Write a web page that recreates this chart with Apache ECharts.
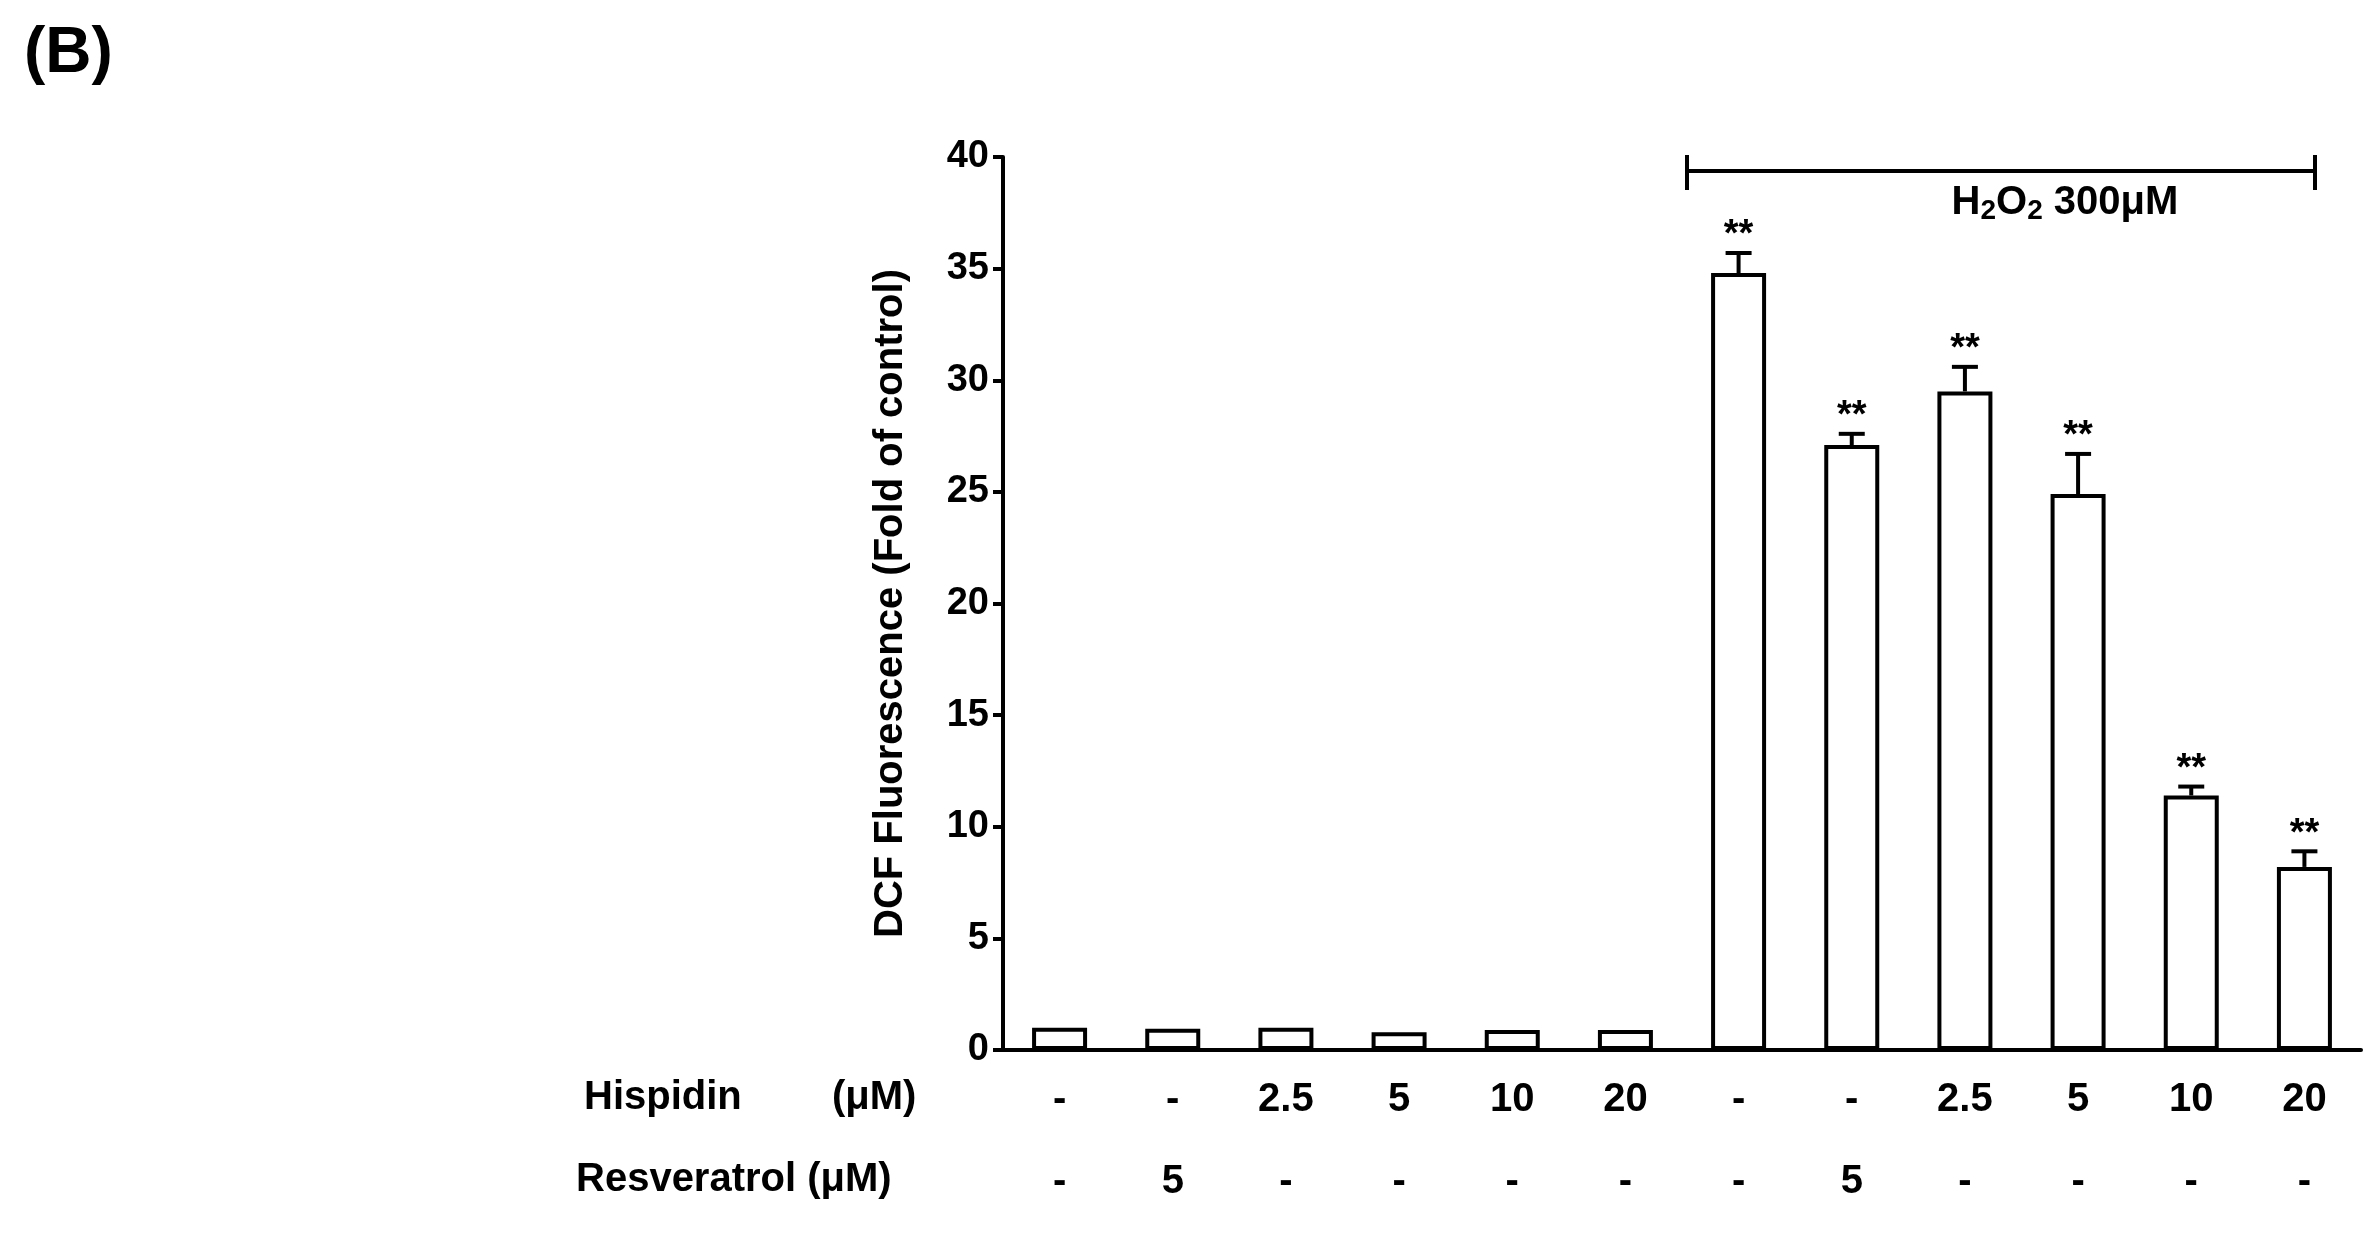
<!DOCTYPE html><html><head><meta charset="utf-8"><script src="https://cdn.jsdelivr.net/npm/echarts@6/dist/echarts.min.js"></script>
<style>html,body{margin:0;background:#fff}#c{width:2373px;height:1236px}</style></head><body><div id="c"></div><script>
const hispidin=['-','-','2.5','5','10','20','-','-','2.5','5','10','20'];
const resveratrol=['-','5','-','-','-','-','-','5','-','-','-','-'];
const means=[1.0,0.95,1.0,0.8,0.9,0.9,34.8,27.1,29.5,24.9,11.4,8.2];
const errTop=[1.0,0.95,1.0,0.8,0.9,0.9,35.7,27.6,30.6,26.7,11.8,8.9];
const sig=['','','','','','','**','**','**','**','**','**'];
const yTicks=[0,5,10,15,20,25,30,35,40];
const cats=hispidin.map((h,i)=>String(i));
const F='"Liberation Sans Narrow", Arial, Liberation Sans, sans-serif';
const chart=echarts.init(document.getElementById('c'));
chart.setOption({
animation:false,
grid:{left:1003,width:1358,top:157,height:893},
xAxis:{type:'category',data:cats,axisLine:{lineStyle:{color:'#000',width:4}},axisTick:{show:false},
 axisLabel:{margin:9,formatter:(v,i)=>'{a|'+hispidin[i]+'}\n{a|'+resveratrol[i]+'}',rich:{a:{fontFamily:F,fontWeight:'bold',fontSize:40,color:'#000',lineHeight:82}}}},
yAxis:{type:'value',min:0,max:40,interval:5,splitLine:{show:false},axisLine:{show:true,lineStyle:{color:'#000',width:4}},
 axisTick:{show:true,inside:false,length:10,lineStyle:{width:4,color:'#000'}},axisLabel:{fontFamily:F,fontWeight:'bold',fontSize:38,color:'#000',margin:14,formatter:v=>yTicks.includes(v)?String(v):''},
 name:'DCF Fluorescence (Fold of control)',nameLocation:'middle',nameGap:92,nameTextStyle:{fontFamily:F,fontWeight:'bold',fontSize:40,color:'#000'}},
series:[
{type:'bar',data:means,barWidth:55,itemStyle:{color:'#fff',borderColor:'#000',borderWidth:4}},
{type:'custom',data:means.map((m,i)=>[i,m,errTop[i]]),z:5,renderItem:(p,api)=>{
 const a=api.coord([api.value(0),api.value(1)]),b=api.coord([api.value(0),api.value(2)]);
 const i=p.dataIndex;const ch=[];
 if(api.value(2)>api.value(1)){
  ch.push({type:'line',shape:{x1:a[0],y1:a[1],x2:b[0],y2:b[1]},style:{stroke:'#000',lineWidth:4}});
  ch.push({type:'line',shape:{x1:b[0]-13,y1:b[1],x2:b[0]+13,y2:b[1]},style:{stroke:'#000',lineWidth:4}});}
 if(sig[i])ch.push({type:'text',style:{text:sig[i],x:b[0],y:b[1]+2,align:'center',verticalAlign:'bottom',font:'bold 38px '+F,fill:'#000'}});
 return {type:'group',children:ch};}}
],
graphic:[
{type:'text',left:24,top:22,style:{text:'(B)',font:'bold 64px Arial, Liberation Sans, sans-serif',fill:'#000'}},
{type:'text',left:584,top:1078,style:{text:'Hispidin',font:'bold 40px '+F,fill:'#000'}},
{type:'text',left:832,top:1078,style:{text:'(μM)',font:'bold 40px '+F,fill:'#000'}},
{type:'text',left:576,top:1160,style:{text:'Resveratrol (μM)',font:'bold 40px '+F,fill:'#000'}},
{type:'line',shape:{x1:1687,y1:171,x2:2315,y2:171},style:{stroke:'#000',lineWidth:4}},
{type:'line',shape:{x1:1687,y1:155,x2:1687,y2:190},style:{stroke:'#000',lineWidth:4}},
{type:'line',shape:{x1:2315,y1:155,x2:2315,y2:190},style:{stroke:'#000',lineWidth:4}},
{type:'text',x:2065,y:203,style:{text:'H{s|2}O{s|2} 300μM',align:'center',verticalAlign:'middle',font:'bold 40px '+F,fill:'#000',rich:{s:{font:'bold 28px '+F,fill:'#000',padding:[16,0,0,0]}}}}
]});
</script></body></html>
